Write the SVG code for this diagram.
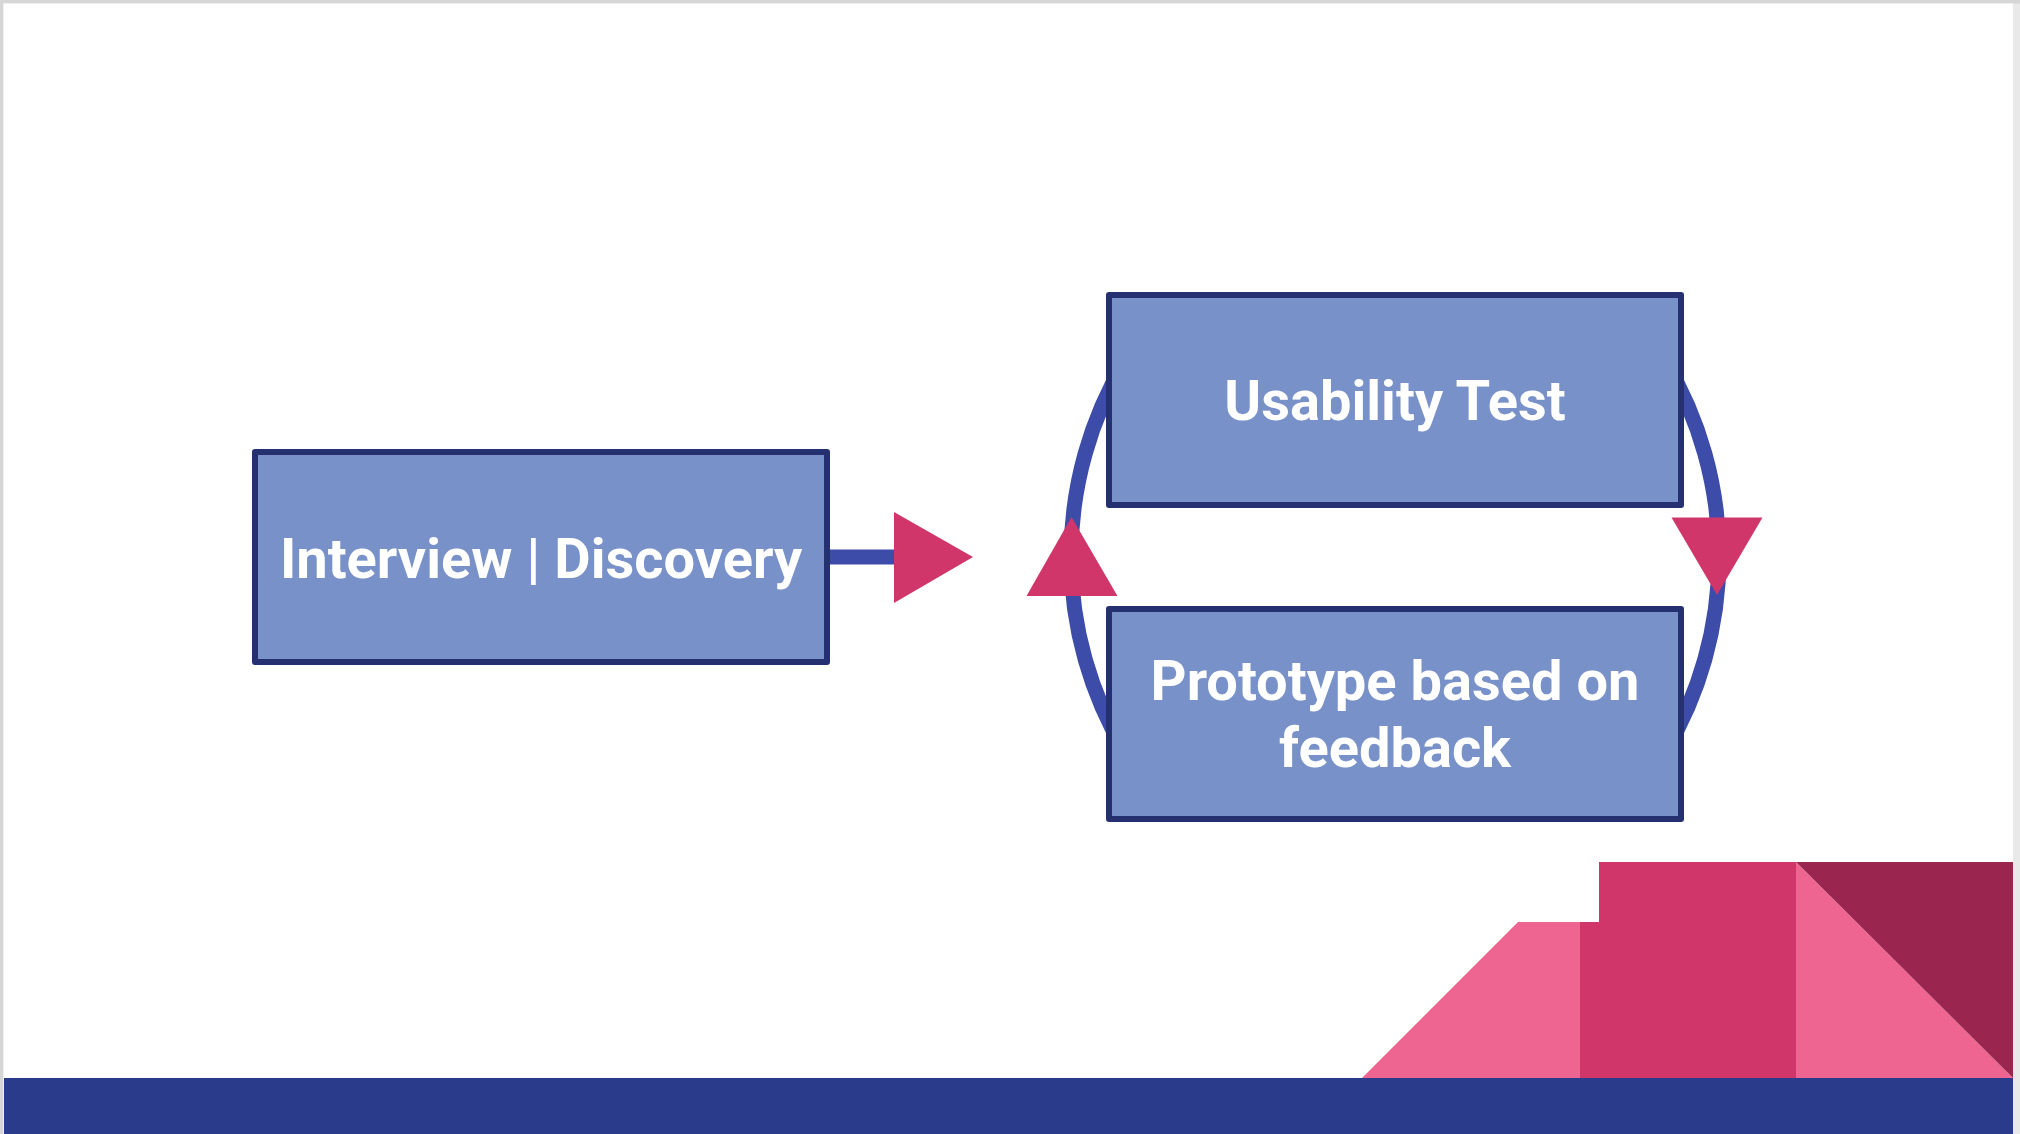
<svg xmlns="http://www.w3.org/2000/svg" width="2020" height="1134" viewBox="0 0 2020 1134">
  <defs>
    <style>
      .box { fill: #7891c9; stroke: #24306f; stroke-width: 6; stroke-linejoin: round; }
      .label { fill: #ffffff; font-family: Roboto, "Liberation Sans", sans-serif; font-weight: 700; font-size: 56px; text-anchor: middle; }
      .link { fill: none; stroke: #3c4ca8; stroke-width: 15; }
      .head { fill: #d0366a; }
    </style>
  </defs>

  <!-- page frame -->
  <rect x="0" y="0" width="2020" height="1134" fill="#e9e9e9"/>
  <rect x="0" y="0" width="2020" height="3.5" fill="#d6d6d6"/>
  <rect x="0" y="0" width="3.5" height="1134" fill="#d6d6d6"/>
  <rect x="3.5" y="3.5" width="2009.5" height="1130.5" fill="#ffffff"/>

  <!-- decoration -->
  <g id="decoration">
    <rect x="4" y="1078" width="2009" height="56" fill="#2b3b8c"/>
    <polygon points="1362,1078 1518,922 1582,922 1582,1078" fill="#ee6592"/>
    <polygon points="1599,862 1796,862 1796,1078 1580,1078 1580,922 1599,922" fill="#d0366a"/>
    <polygon points="1796,862 2013,1078 1796,1078" fill="#ee6592"/>
    <polygon points="1796,862 2013,862 2013,1078" fill="#9a254f"/>
  </g>

  <!-- connectors -->
  <g id="connectors">
    <line class="link" x1="826" y1="557" x2="898" y2="557"/>
    <polygon class="head" points="894,512 973,557 894,603"/>
    <path class="link" d="M 1125 361.2 A 380 380 0 0 0 1125 751.8"/>
    <path class="link" d="M 1665 361.2 A 380 380 0 0 1 1665 751.8"/>
    <polygon class="head" points="1071.5,517 1117.5,596 1026.5,596"/>
    <polygon class="head" points="1671.5,517.5 1762.5,517.5 1717,595"/>
  </g>

  <!-- nodes -->
  <g id="node-interview">
    <rect class="box" x="255" y="452" width="572" height="210"/>
    <text class="label" x="541" y="578">Interview | Discovery</text>
  </g>
  <g id="node-usability">
    <rect class="box" x="1109" y="295" width="572" height="210"/>
    <text class="label" x="1395" y="420">Usability Test</text>
  </g>
  <g id="node-prototype">
    <rect class="box" x="1109" y="609" width="572" height="210"/>
    <text class="label" x="1395" y="700">Prototype based on</text>
    <text class="label" x="1395" y="767">feedback</text>
  </g>
</svg>
